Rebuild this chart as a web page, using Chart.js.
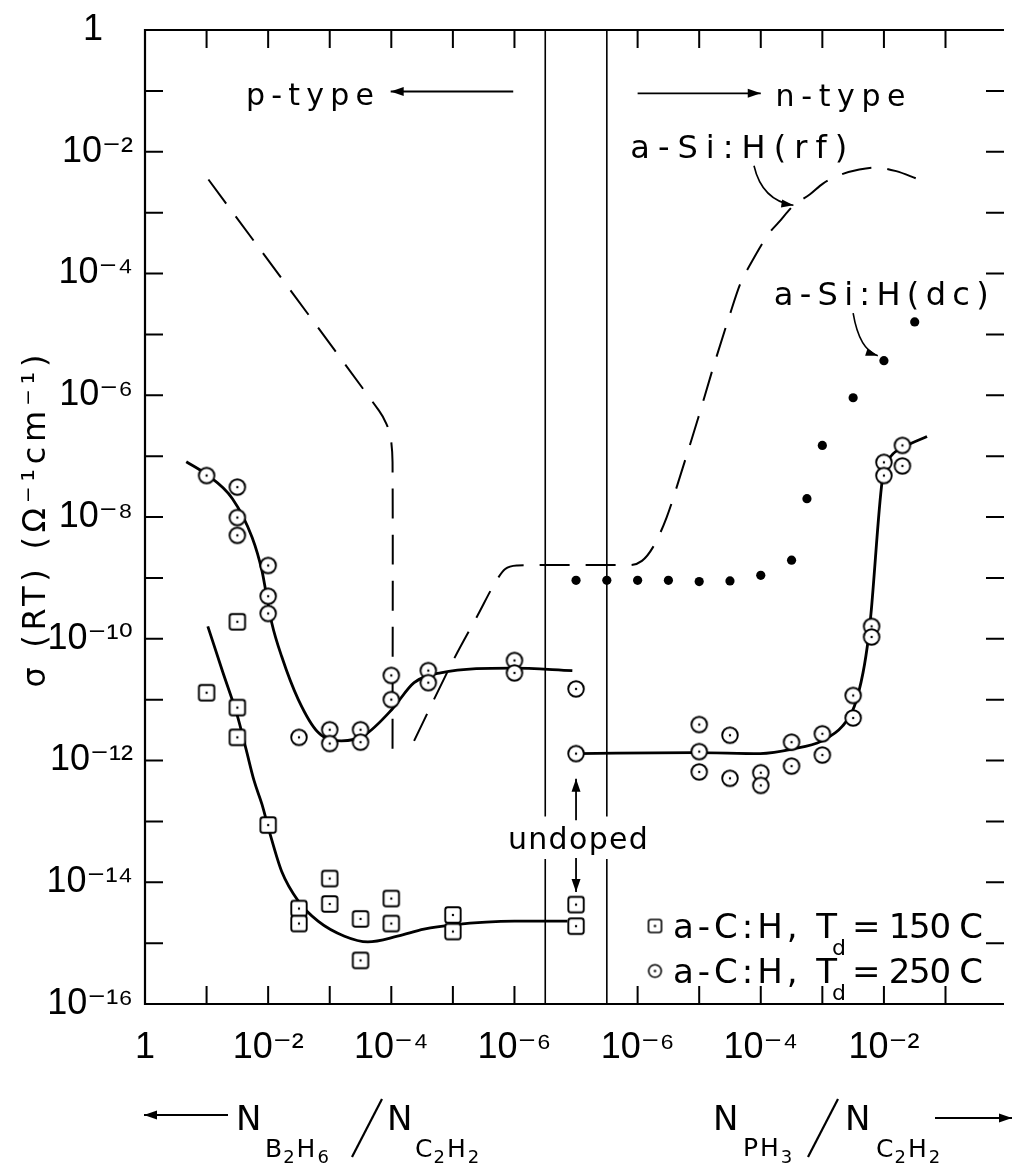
<!DOCTYPE html>
<html><head><meta charset="utf-8">
<script src="https://cdn.jsdelivr.net/npm/chart.js@4.4.1/dist/chart.umd.min.js"></script>
<style>html,body{margin:0;padding:0;background:#fff;overflow:hidden}canvas{display:block}</style>
</head><body>
<canvas id="c" width="1013" height="1167"></canvas>
<script>
// ---------------- data ----------------
// x = position along the broken axis, in decades: 0 = ratio 1 (B2H6 side), 6 = 1e-6 (B2H6 side),
// 7 = undoped, 8 = 1e-6 (PH3 side), 12 = 1e-2 (PH3 side)
const xTickPos    = [0, 1, 2, 3, 4, 5, 6, 8, 9, 10, 11, 12, 13];
const xTickLabels = ['1', '', '10⁻²', '', '10⁻⁴', '', '10⁻⁶', '10⁻⁶', '', '10⁻⁴', '', '10⁻²', ''];
const yTickExp    = [0, -1, -2, -3, -4, -5, -6, -7, -8, -9, -10, -11, -12, -13, -14, -15, -16];
const yTickLabels = ['1   ', '', '10⁻²', '', '10⁻⁴', '', '10⁻⁶', '', '10⁻⁸', '', '10⁻¹⁰', '', '10⁻¹²', '', '10⁻¹⁴', '', '10⁻¹⁶'];
const breakPos = [6.5, 7.5];

// a-C:H, Td = 150 C (squares)
const sq150X = [1.0, 1.5, 1.5, 1.5, 2.0, 2.5, 2.5, 3.0, 3.0, 3.5, 3.5, 4.0, 4.0, 5.0, 5.0, 7.0, 7.0];
const sq150Y = [1.3e-11, 1.9e-10, 7.4e-12, 2.4e-12, 8.7e-14, 3.7e-15, 2.1e-15, 1.15e-14, 4.4e-15, 2.5e-15, 5.2e-16, 5.4e-15, 2.1e-15, 2.9e-15, 1.55e-15, 4.3e-15, 1.9e-15];

// a-C:H, Td = 250 C (circles)
const circ250X = [1.0, 1.5, 1.5, 1.5, 2.0, 2.0, 2.0, 2.5, 3.0, 3.0, 3.5, 3.5, 4.0, 4.0, 4.6, 4.6, 6.0, 6.0,
                  7.0, 7.0,
                  9.0, 9.0, 9.0, 9.5, 9.5, 10.0, 10.0, 10.5, 10.5, 11.0, 11.0, 11.5, 11.5, 11.8, 11.8, 12.0, 12.0, 12.3, 12.3];
const circ250Y = [4.8e-8, 3.1e-8, 9.8e-9, 5.0e-9, 1.6e-9, 5.0e-10, 2.6e-10, 2.4e-12, 3.2e-12, 1.9e-12, 3.2e-12, 2.0e-12, 2.5e-11, 1.0e-11, 3.0e-11, 1.9e-11, 4.4e-11, 2.75e-11,
                  1.5e-11, 1.3e-12,
                  3.9e-12, 1.4e-12, 6.5e-13, 2.6e-12, 5.1e-13, 6.3e-13, 3.9e-13, 2.0e-12, 8.1e-13, 2.75e-12, 1.23e-12, 1.17e-11, 5.0e-12, 1.6e-10, 1.07e-10, 7.9e-8, 4.8e-8, 1.5e-7, 6.9e-8];

// a-Si:H (dc) (filled dots)
const dcX = [7.0, 7.5, 8.0, 8.5, 9.0, 9.5, 10.0, 10.5, 10.75, 11.0, 11.5, 12.0, 12.5];
const dcY = [9.1e-10, 9.1e-10, 9.1e-10, 9.1e-10, 8.7e-10, 8.9e-10, 1.1e-9, 1.95e-9, 2.0e-8, 1.5e-7, 9.1e-7, 3.7e-6, 1.6e-5];

// solid guide curves
const fit250LX = [0.67, 1.0, 1.42, 1.74, 1.90, 1.96, 2.06, 2.22, 2.49, 2.81, 3.19, 3.56, 4.01, 4.37, 4.80, 5.96, 6.94];
const fit250LY = [8.1e-8, 5.0e-8, 2.0e-8, 4.6e-9, 1.3e-9, 6.2e-10, 1.8e-10, 5.1e-11, 1.0e-11, 2.9e-12, 2.1e-12, 2.6e-12, 6.9e-12, 1.9e-11, 2.75e-11, 3.3e-11, 3.0e-11];
const fit250RX = [7.01, 8.92, 9.99, 10.53, 10.99, 11.33, 11.52, 11.66, 11.75, 11.79, 11.97, 12.08, 12.30, 12.70];
const fit250RY = [1.3e-12, 1.35e-12, 1.3e-12, 1.55e-12, 2.1e-12, 3.7e-12, 7.8e-12, 2.75e-11, 1.07e-10, 2.6e-10, 3.8e-8, 8.7e-8, 1.35e-7, 2.1e-7];
const fit150X = [1.02, 1.26, 1.50, 1.64, 1.77, 1.90, 2.02, 2.22, 2.49, 2.81, 3.24, 3.62, 4.10, 4.53, 5.0, 6.0, 6.86];
const fit150Y = [1.6e-10, 2.9e-11, 5.4e-12, 1.55e-12, 4.7e-13, 1.9e-13, 6.8e-14, 1.5e-14, 4.9e-15, 2.3e-15, 1.3e-15, 1.05e-15, 1.3e-15, 1.7e-15, 2.0e-15, 2.3e-15, 2.3e-15];

// a-Si:H (rf) dashed curves
const rfPX = [1.03, 3.80, 3.92, 3.99, 4.02, 4.02];
const rfPY = [3.5e-3, 5.6e-7, 3.4e-7, 2.0e-7, 7.9e-8, 1.3e-12];
const rfNX = [4.37, 5.01, 5.39, 5.72, 5.85, 6.05, 6.30, 7.85, 8.07, 8.25, 8.47, 8.73, 8.98, 9.22, 9.49, 9.67, 9.81, 10.13, 10.29, 10.53, 10.80, 11.01, 11.30, 11.60, 11.87, 12.20, 12.54];
const rfNY = [2.1e-12, 4.5e-11, 2.3e-10, 9.5e-10, 1.4e-9, 1.6e-9, 1.62e-9, 1.62e-9, 1.9e-9, 3.2e-9, 9.8e-9, 6.3e-8, 4.1e-7, 2.7e-6, 2.0e-5, 6.9e-5, 1.3e-4, 4.5e-4, 6.9e-4, 1.3e-3, 2.0e-3, 3.0e-3, 4.2e-3, 5.1e-3, 5.5e-3, 4.8e-3, 3.6e-3];

// ---------------- helpers ----------------
const FONT = '"Liberation Sans", "DejaVu Sans", sans-serif';
const AFONT = '"DejaVu Sans", "Liberation Sans", sans-serif';
const INK = '#000';
const pts = (xs, ys) => xs.map((x, i) => ({x: x, y: ys[i]}));

function marker(kind, r, lw) {
  const s = Math.ceil(2 * r + lw + 4);
  const c = document.createElement('canvas');
  c.width = s; c.height = s;
  const g = c.getContext('2d');
  const m = s / 2;
  g.lineWidth = lw; g.strokeStyle = INK; g.fillStyle = '#fff';
  g.beginPath();
  if (kind === 'circle') g.arc(m, m, r, 0, Math.PI * 2);
  else g.roundRect(m - r, m - r, 2 * r, 2 * r, 2.5);
  g.fill(); g.stroke();
  g.fillStyle = INK;
  g.beginPath(); g.arc(m, m, 1.2, 0, Math.PI * 2); g.fill();
  return c;
}
const sqImg = marker('square', 7.7, 1.9);
const ciImg = marker('circle', 7.8, 1.9);
const sqLeg = marker('square', 6.5, 1.6);
const ciLeg = marker('circle', 6.3, 1.6);

function arrowHead(ctx, x, y, ang, len, w) {
  len = len || 13; w = w || 4.5;
  const c = Math.cos(ang), s = Math.sin(ang);
  ctx.beginPath();
  ctx.moveTo(x, y);
  ctx.lineTo(x - len * c + w * s, y - len * s - w * c);
  ctx.lineTo(x - len * c - w * s, y - len * s + w * c);
  ctx.closePath(); ctx.fill();
}
function arrow(ctx, x1, y1, x2, y2) {
  ctx.beginPath(); ctx.moveTo(x1, y1); ctx.lineTo(x2, y2); ctx.stroke();
  arrowHead(ctx, x2, y2, Math.atan2(y2 - y1, x2 - x1));
}
function curveArrow(ctx, x1, y1, cx, cy, x2, y2) {
  ctx.beginPath(); ctx.moveTo(x1, y1); ctx.quadraticCurveTo(cx, cy, x2, y2); ctx.stroke();
  arrowHead(ctx, x2, y2, Math.atan2(y2 - cy, x2 - cx), 12, 4);
}
// draws text with letter spacing chosen so the text spans `width` px
function spaced(ctx, text, x, y, width, size, align, family) {
  ctx.font = size + 'px ' + (family || AFONT);
  ctx.letterSpacing = '0px';
  const w0 = ctx.measureText(text).width;
  const n = Array.from(text).length;
  const ls = n > 1 ? (width - w0) / (n - 1) : 0;
  ctx.letterSpacing = ls.toFixed(2) + 'px';
  ctx.textAlign = 'left';
  ctx.fillText(text, align === 'center' ? x - width / 2 : x, y);
  ctx.letterSpacing = '0px';
}
function piece(ctx, text, x, y, size, ls, family) {
  ctx.font = size + 'px ' + (family || AFONT);
  ctx.letterSpacing = (ls || 0) + 'px';
  ctx.textAlign = 'left';
  ctx.fillText(text, x, y);
  const w = ctx.measureText(text).width;
  ctx.letterSpacing = '0px';
  return x + w;
}
function slash(ctx, x1, y1, x2, y2) {
  ctx.beginPath(); ctx.moveTo(x1, y1); ctx.lineTo(x2, y2); ctx.stroke();
}

const decor = {
  id: 'decor',
  beforeDatasetsDraw(chart) {
    const {ctx, chartArea: a, scales: {x, y}} = chart;
    ctx.save();
    ctx.strokeStyle = INK; ctx.fillStyle = INK;
    ctx.lineWidth = 2.2;
    ctx.beginPath();
    ctx.moveTo(a.right, a.top); ctx.lineTo(a.left, a.top);
    ctx.lineTo(a.left, a.bottom); ctx.lineTo(a.right, a.bottom);
    ctx.stroke();
    const TICK = 18;
    ctx.lineWidth = 2;
    ctx.beginPath();
    xTickPos.forEach(v => {
      if (v === 0) return;
      const px = x.getPixelForValue(v);
      ctx.moveTo(px, a.top); ctx.lineTo(px, a.top + TICK);
      ctx.moveTo(px, a.bottom); ctx.lineTo(px, a.bottom - TICK);
    });
    yTickExp.forEach(e => {
      if (e === 0 || e === -16) return;
      const py = y.getPixelForValue(Number('1e' + e));
      ctx.moveTo(a.left, py); ctx.lineTo(a.left + TICK, py);
      ctx.moveTo(a.right, py); ctx.lineTo(a.right - TICK, py);
    });
    ctx.stroke();
    // broken-axis separators, interrupted by the "undoped" label
    const gapTop = y.getPixelForValue(1.2e-13), gapBot = y.getPixelForValue(2.4e-14);
    ctx.lineWidth = 1.6;
    ctx.beginPath();
    breakPos.forEach(v => {
      const px = x.getPixelForValue(v);
      ctx.moveTo(px, a.top); ctx.lineTo(px, gapTop);
      ctx.moveTo(px, gapBot); ctx.lineTo(px, a.bottom);
    });
    ctx.stroke();
    ctx.restore();
  },
  afterDraw(chart) {
    const {ctx, chartArea: a, scales: {x, y}} = chart;
    const X = u => x.getPixelForValue(u);
    const Y = lg => y.getPixelForValue(Math.pow(10, lg));
    ctx.save();
    ctx.fillStyle = INK; ctx.strokeStyle = INK;
    ctx.textBaseline = 'alphabetic';

    // region labels
    spaced(ctx, 'p-type', X(1.64), Y(-1.24), 128, 30);
    ctx.lineWidth = 1.8;
    arrow(ctx, X(5.98), Y(-1.01), X(3.99), Y(-1.01));
    arrow(ctx, X(8.0), Y(-1.04), X(10.0), Y(-1.04));
    spaced(ctx, 'n-type', X(10.24), Y(-1.25), 130, 30);

    spaced(ctx, 'a-Si:H(rf)', X(7.88), Y(-2.10), 217, 32);
    ctx.lineWidth = 1.6;
    curveArrow(ctx, X(9.89), Y(-2.23), X(10.02), Y(-2.80), X(10.53), Y(-2.88));
    spaced(ctx, 'a-Si:H(dc)', X(10.21), Y(-4.51), 215, 32);
    curveArrow(ctx, X(11.50), Y(-4.65), X(11.60), Y(-5.25), X(11.90), Y(-5.35));

    // undoped
    spaced(ctx, 'undoped', X(7.03), Y(-13.46), 140, 30, 'center');
    ctx.lineWidth = 1.8;
    arrow(ctx, X(7.0), Y(-12.98), X(7.0), Y(-12.30));
    arrow(ctx, X(7.0), Y(-13.60), X(7.0), Y(-14.16));

    // legend
    const lx = 655;
    const rows = [[sqLeg, 938, '150 C'], [ciLeg, 983, '250 C']];
    rows.forEach(([img, base, tag]) => {
      ctx.drawImage(img, lx - img.width / 2, base - 12 - img.height / 2);
      spaced(ctx, 'a-C:H, T', 673, base, 164, 34);
      piece(ctx, 'd', 832, base + 17, 22);
      spaced(ctx, '= ' + tag, 852, base, 131, 34);
    });

    // y-axis title
    ctx.save();
    ctx.translate(33, (a.top + a.bottom) / 2 + 4);
    ctx.rotate(-Math.PI / 2);
    spaced(ctx, 'σ (RT) (Ω⁻¹cm⁻¹)', 0, 12, 333, 32, 'center');
    ctx.restore();

    // x-axis titles
    const b = a.bottom;
    ctx.lineWidth = 1.8;
    arrow(ctx, 228, b + 111, 144, b + 111);
    piece(ctx, 'N', 236, b + 126, 34);
    let cx = piece(ctx, 'B', 265, b + 153, 25);
    cx = piece(ctx, '2', cx + 1, b + 159, 18);
    cx = piece(ctx, 'H', cx + 2, b + 153, 25);
    piece(ctx, '6', cx + 2, b + 159, 18);
    ctx.lineWidth = 2.2;
    slash(ctx, 352, b + 153, 382, b + 95);
    piece(ctx, 'N', 387, b + 126, 34);
    cx = piece(ctx, 'C', 415, b + 153, 25);
    cx = piece(ctx, '2', cx + 1, b + 159, 18);
    cx = piece(ctx, 'H', cx + 2, b + 153, 25);
    piece(ctx, '2', cx + 2, b + 159, 18);

    piece(ctx, 'N', 713, b + 126, 34);
    cx = piece(ctx, 'P', 743, b + 152, 25);
    cx = piece(ctx, 'H', cx + 2, b + 152, 25);
    piece(ctx, '3', cx + 2, b + 159, 18);
    ctx.lineWidth = 2.2;
    slash(ctx, 808, b + 153, 838, b + 95);
    piece(ctx, 'N', 845, b + 126, 34);
    cx = piece(ctx, 'C', 876, b + 153, 25);
    cx = piece(ctx, '2', cx + 1, b + 159, 18);
    cx = piece(ctx, 'H', cx + 2, b + 153, 25);
    piece(ctx, '2', cx + 2, b + 159, 18);
    ctx.lineWidth = 1.8;
    arrow(ctx, 935, b + 114, 1012, b + 114);
    ctx.restore();
  }
};

const lineDs = (label, xs, ys, extra) => Object.assign({
  label: label, data: pts(xs, ys), showLine: true, pointRadius: 0, borderColor: INK,
  backgroundColor: INK, borderWidth: 2.8, fill: false, order: 2, cubicInterpolationMode: 'monotone'
}, extra || {});

new Chart(document.getElementById('c'), {
  type: 'scatter',
  data: {
    datasets: [
      {label: 'a-C:H, Td = 150 C', data: pts(sq150X, sq150Y), pointStyle: sqImg, pointRadius: 8, order: 0},
      {label: 'a-C:H, Td = 250 C', data: pts(circ250X, circ250Y), pointStyle: ciImg, pointRadius: 8, order: 0},
      {label: 'a-Si:H(dc)', data: pts(dcX, dcY), pointStyle: 'circle', pointRadius: 4.6,
       backgroundColor: INK, borderColor: INK, borderWidth: 0, order: 0},
      lineDs('fit 250 C (B2H6)', fit250LX, fit250LY),
      lineDs('fit 250 C (PH3)', fit250RX, fit250RY),
      lineDs('fit 150 C', fit150X, fit150Y),
      lineDs('a-Si:H(rf) p', rfPX, rfPY, {borderWidth: 2, borderDash: [30, 16], cubicInterpolationMode: 'default', tension: 0.3}),
      lineDs('a-Si:H(rf) n', rfNX, rfNY, {borderWidth: 2, borderDash: [30, 16]})
    ]
  },
  options: {
    responsive: false, animation: false, devicePixelRatio: 1, events: [],
    layout: {padding: {top: 21, right: 0, left: 0, bottom: 0}},
    plugins: {legend: {display: false}, tooltip: {enabled: false}},
    scales: {
      x: {
        type: 'linear', min: 0, max: 13.95,
        afterFit(s) { s.height = 163; },
        afterBuildTicks(s) { s.ticks = xTickPos.map(v => ({value: v})); },
        ticks: {
          autoSkip: false, maxRotation: 0, minRotation: 0, padding: 26, color: INK,
          font: {family: FONT, size: 36, lineHeight: 1},
          callback: v => { const i = xTickPos.indexOf(v); return i >= 0 ? xTickLabels[i] : ''; }
        },
        grid: {display: false, drawTicks: false}, border: {display: false}
      },
      y: {
        type: 'logarithmic', min: 1e-16, max: 1,
        afterFit(s) { s.width = 145; },
        afterBuildTicks(s) { s.ticks = yTickExp.map(e => ({value: Number('1e' + e)})); },
        ticks: {
          autoSkip: false, padding: 12, color: INK,
          font: {family: FONT, size: 36, lineHeight: 1},
          callback: v => { const i = yTickExp.indexOf(Math.round(Math.log10(v))); return i >= 0 ? yTickLabels[i] : ''; }
        },
        grid: {display: false, drawTicks: false}, border: {display: false}
      }
    }
  },
  plugins: [decor]
});
</script>
</body></html>
